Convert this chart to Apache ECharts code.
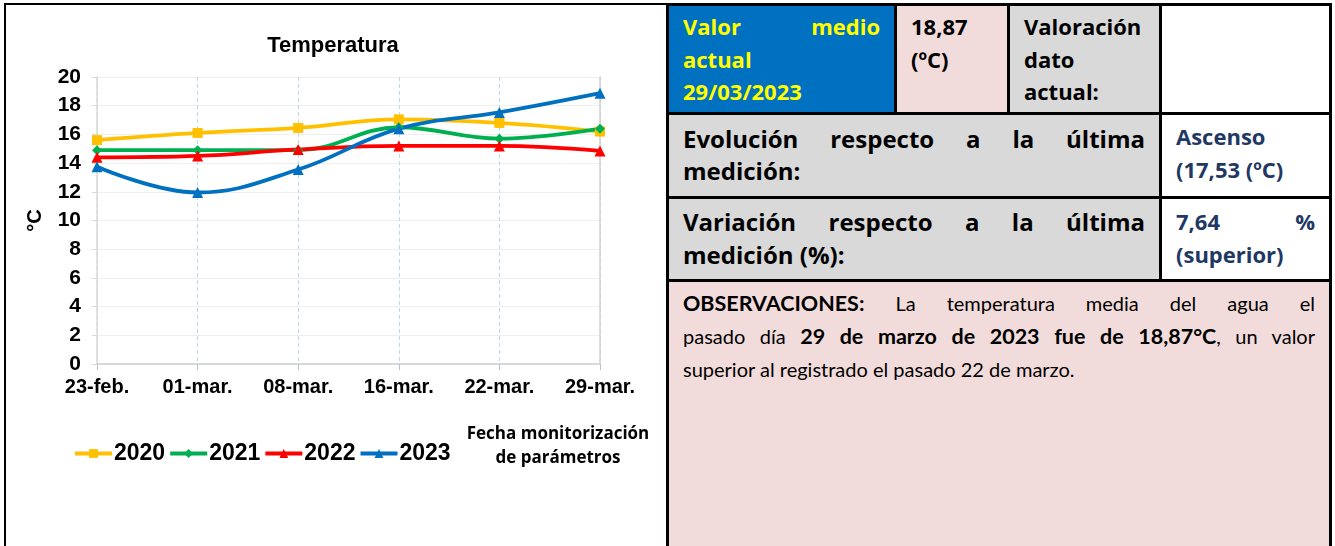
<!DOCTYPE html>
<html>
<head>
<meta charset="utf-8">
<script src="https://cdn.jsdelivr.net/npm/echarts@6/dist/echarts.min.js"></script>
<style>
  html, body { margin: 0; padding: 0; background: #fff; }
  body { width: 1335px; height: 546px; position: relative; overflow: hidden; }
  #panel {
    position: absolute; left: 4px; top: 3px; width: 662px; height: 543px;
    border-left: 2px solid #000; border-top: 2px solid #000; box-sizing: border-box;
  }
  #chart { position: absolute; left: 0; top: 0; width: 668px; height: 546px; }
  #table { position: absolute; left: 666px; top: 3px; width: 666px; height: 543px; background: #000; }
  .cell {
    position: absolute; box-sizing: border-box; padding: 0 14px;
    font-family: "Open Sans", sans-serif; font-weight: bold; color: #000;
  }
  .j { text-align: justify; text-align-last: justify; }
  .blue { background: #0070C0; color: #FFFF00; }
  .pink { background: #F2DCDB; }
  .grey { background: #D9D9D9; }
  .white { background: #fff; color: #1F3864; }
  .obs { font-family: Lato, sans-serif; font-weight: normal; }
  .obs b { font-weight: bold; font-size: 21.5px; }
</style>
</head>
<body>
<div id="panel"></div>
<div id="chart"></div>
<div id="table">
  <div class="cell blue" style="left:3px;top:3px;width:225px;height:106px;font-size:22px;line-height:32.5px;padding-top:4px;">
    <div class="j">Valor medio</div><div>actual</div><div>29/03/2023</div>
  </div>
  <div class="cell pink" style="left:231px;top:3px;width:110px;height:106px;font-size:22px;line-height:32.5px;padding-top:4px;">
    <div>18,87</div><div>(ºC)</div>
  </div>
  <div class="cell grey" style="left:344px;top:3px;width:149px;height:106px;font-size:22px;line-height:32.5px;padding-top:4px;">
    <div>Valoración</div><div>dato</div><div>actual:</div>
  </div>
  <div class="cell" style="left:496px;top:3px;width:167px;height:106px;background:#fff;"></div>

  <div class="cell grey" style="left:3px;top:112px;width:490px;height:81px;font-size:24px;line-height:32px;padding-top:8px;">
    <div class="j">Evolución respecto a la última</div><div>medición:</div>
  </div>
  <div class="cell white" style="left:496px;top:112px;width:167px;height:81px;font-size:22px;line-height:33px;padding-top:5px;">
    <div>Ascenso</div><div>(17,53 (ºC)</div>
  </div>

  <div class="cell grey" style="left:3px;top:196px;width:490px;height:80px;font-size:24px;line-height:33px;padding-top:6px;">
    <div class="j">Variación respecto a la última</div><div>medición (%):</div>
  </div>
  <div class="cell white" style="left:496px;top:196px;width:167px;height:80px;font-size:22px;line-height:33px;padding-top:6px;">
    <div class="j">7,64 %</div><div>(superior)</div>
  </div>

  <div class="cell pink obs" style="left:3px;top:279px;width:660px;height:270px;font-size:20px;line-height:33px;padding-top:5px;">
    <div class="j"><b>OBSERVACIONES:</b> La temperatura media del agua el</div>
    <div class="j">pasado día <b>29 de marzo de 2023 fue de 18,87°C</b>, un valor</div>
    <div>superior al registrado el pasado 22 de marzo.</div>
  </div>
</div>
<script>
const categories = ['23-feb.', '01-mar.', '08-mar.', '16-mar.', '22-mar.', '29-mar.'];
const seriesNames = ['2020', '2021', '2022', '2023'];
const temp2020 = [15.6, 16.1, 16.45, 17.05, 16.8, 16.2];
const temp2021 = [14.9, 14.9, 14.9, 16.5, 15.7, 16.4];
const temp2022 = [14.4, 14.5, 14.95, 15.2, 15.2, 14.85];
const temp2023 = [13.75, 11.95, 13.55, 16.4, 17.53, 18.87];
const yMin = 0;
const yMax = 20;
const yStep = 2;

const colors = ['#FFC000', '#00B050', '#FF0000', '#0070C0'];
const symbols = ['rect', 'diamond', 'triangle', 'triangle'];
const sizes = [10, 10, 11, 11];
const values = [temp2020, temp2021, temp2022, temp2023];

const chart = echarts.init(document.getElementById('chart'));

chart.setOption({
  animation: false,
  title: [{
    text: 'Temperatura',
    left: 328,
    top: 30,
    textAlign: 'center',
    textStyle: { fontFamily: 'Liberation Sans', fontWeight: 'bold', fontSize: 22, color: '#000' }
  }, {
    text: 'Fecha monitorización\nde parámetros',
    left: 553,
    top: 417,
    textAlign: 'center',
    textStyle: { fontFamily: 'Open Sans', fontWeight: 'bold', fontSize: 17, lineHeight: 24, color: '#000' }
  }],
  legend: {
    left: 73,
    top: 442,
    padding: 0,
    itemWidth: 37,
    itemHeight: 11,
    itemGap: 3,
    data: seriesNames,
    lineStyle: { width: 4 },
    textStyle: {
      fontFamily: 'Liberation Sans', fontWeight: 'bold', fontSize: 23, color: '#000',
      padding: [0, 0, 0, -3]
    }
  },
  grid: { left: 97, right: 68, top: 77, bottom: 182 },
  xAxis: {
    type: 'category',
    boundaryGap: false,
    data: categories,
    axisLine: { lineStyle: { color: '#D9D9D9', width: 2 } },
    axisTick: { show: true, length: 6, lineStyle: { color: '#BFBFBF' } },
    splitLine: { show: true, lineStyle: { color: '#BDD7EE', type: [4, 3], width: 1 } },
    axisLabel: {
      margin: 13,
      color: '#000',
      fontFamily: 'Liberation Sans',
      fontWeight: 'bold',
      fontSize: 20
    }
  },
  yAxis: [{
    type: 'value',
    min: yMin,
    max: yMax,
    interval: yStep,
    name: '°C',
    nameLocation: 'middle',
    nameRotate: 90,
    nameGap: 52,
    nameTextStyle: { fontFamily: 'Liberation Sans', fontWeight: 'bold', fontSize: 20, color: '#000' },
    axisLine: { show: true, lineStyle: { color: '#D9D9D9', width: 1.5 } },
    axisTick: { show: true, length: 5, lineStyle: { color: '#D9D9D9' } },
    splitLine: { lineStyle: { color: '#EFEFEF' } },
    axisLabel: {
      margin: 16,
      color: '#000',
      fontFamily: 'Liberation Sans',
      fontWeight: 'bold',
      fontSize: 21
    }
  }, {
    type: 'value',
    position: 'right',
    min: yMin,
    max: yMax,
    interval: yStep,
    axisLine: { show: true, lineStyle: { color: '#D0D0D0', width: 1.5 } },
    axisTick: { show: false },
    axisLabel: { show: false },
    splitLine: { show: false }
  }],
  series: seriesNames.map((name, i) => ({
    name: name,
    type: 'line',
    data: values[i],
    smooth: 0.4,
    symbol: symbols[i],
    symbolSize: sizes[i],
    color: colors[i],
    lineStyle: { width: 3.8, color: colors[i] },
    itemStyle: { color: colors[i] }
  }))
});
</script>
</body>
</html>
